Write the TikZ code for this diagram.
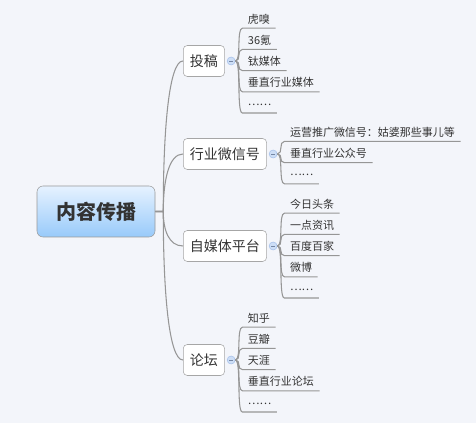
\documentclass[tikz,border=0pt]{standalone}
\usepackage{fontspec}
\setmainfont{Noto Sans CJK SC}
\usetikzlibrary{calc,positioning}
\definecolor{bg-map}{RGB}{243,245,250}
\definecolor{line-map}{RGB}{150,150,150}
\definecolor{text-map}{RGB}{51,51,51}
\definecolor{root-top}{RGB}{230,242,255}
\definecolor{root-bot}{RGB}{152,202,250}
\definecolor{knob-fill}{RGB}{205,222,246}
\definecolor{knob-draw}{RGB}{165,192,235}
\newcommand{\moredots}{\raisebox{2.2pt}{……}}

\begin{document}
\begin{tikzpicture}[x=0.75pt, y=-0.75pt, text=text-map,
    root/.style={draw=gray!80, rounded corners=4.5pt, top color=root-top, bottom color=root-bot,
      minimum width=88.5pt, minimum height=38.25pt, font=\fontsize{15}{15}\selectfont\bfseries},
    topic/.style={draw=gray!70, fill=white, rounded corners=3pt, inner xsep=5pt,
      minimum height=23.25pt, anchor=west, font=\fontsize{10.5}{10.5}\selectfont},
    knob/.style={circle, draw=knob-draw, fill=knob-fill, minimum size=6pt, inner sep=0pt,
      path picture={\draw[knob-draw!70!black, line width=0.4pt]
        ($(path picture bounding box.center)+(-1.6pt,0)$) -- ($(path picture bounding box.center)+(1.6pt,0)$);}},
    item/.style={anchor=west, inner xsep=4pt, inner ysep=2pt, text height=7pt, text depth=1.5pt,
      font=\fontsize{8.25}{8.25}\selectfont},
    conn/.style={draw=line-map, line width=0.8pt}]
  \fill[bg-map] (0,0) rectangle (476,423);
  \useasboundingbox (0,0) rectangle (476,423);

  % centre and main topics
  \node[root] (root) at (96,211.5) {内容传播};
  \coordinate[right=6pt of root] (rj);
  \node[topic] (tg) at (183,61) {投稿};
  \node[topic] (wx) at (183,154) {行业微信号};
  \node[topic] (zm) at (183,246) {自媒体平台};
  \node[topic] (lt) at (183,360) {论坛};
  \foreach \n in {tg,wx,zm,lt}{
    \node[knob, right=1.5pt of \n] (\n c) {};
    \draw[conn] (root.east) -- (rj) .. controls ($(rj)!0.55!(rj|-\n.west)$) and ($(\n.west)+(-14,0)$) .. (\n.west);
  }

  % subtopics
  \foreach \t [count=\i] in {虎嗅,36氪,钛媒体,垂直行业媒体,\moredots}
    \node[item] (tg\i) at ($(tgc.east)+(7,{(\i-3)*21.2+1})$) {\t};
  \foreach \t [count=\i] in {运营推广微信号：姑婆那些事儿等,垂直行业公众号,\moredots}
    \node[item] (wx\i) at ($(wxc.east)+(7,{(\i-2)*21.2})$) {\t};
  \foreach \t [count=\i] in {今日头条,一点资讯,百度百家,微博,\moredots}
    \node[item] (zm\i) at ($(zmc.east)+(7,{(\i-3)*21.2+1})$) {\t};
  \foreach \t [count=\i] in {知乎,豆瓣,天涯,垂直行业论坛,\moredots}
    \node[item] (lt\i) at ($(ltc.east)+(7,{(\i-3)*21.2+1})$) {\t};

  \foreach \i in {1,...,5}{
    \draw[conn] (tgc.east) .. controls +(6,0) and +(-6,0) .. (tg\i.south west) -- (tg\i.south east);
    \draw[conn] (zmc.east) .. controls +(6,0) and +(-6,0) .. (zm\i.south west) -- (zm\i.south east);
    \draw[conn] (ltc.east) .. controls +(6,0) and +(-6,0) .. (lt\i.south west) -- (lt\i.south east);
  }
  \foreach \i in {1,2,3}
    \draw[conn] (wxc.east) .. controls +(6,0) and +(-6,0) .. (wx\i.south west) -- (wx\i.south east);
\end{tikzpicture}
\end{document}
